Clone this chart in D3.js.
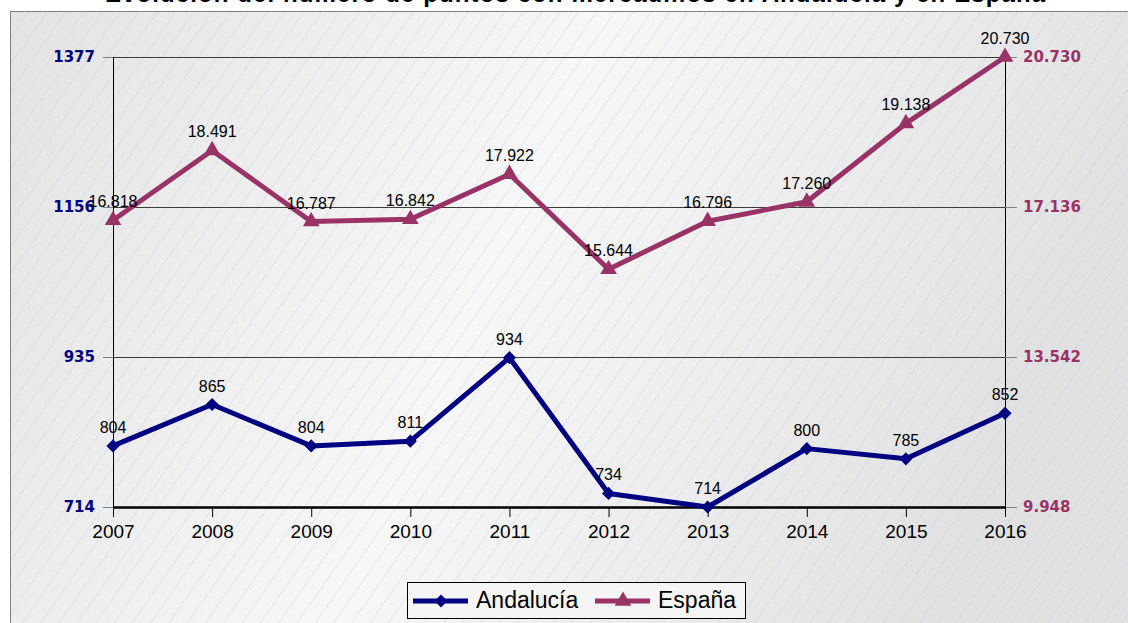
<!DOCTYPE html>
<meta charset="utf-8">
<script src="https://d3js.org/d3.v7.min.js"></script>
<style>
body { margin: 0; background: #fff; }
</style>
<body>
<div id="chart"></div>
<script>

// data
var years = [2007, 2008, 2009, 2010, 2011, 2012, 2013, 2014, 2015, 2016];
var andalucia = [804, 865, 804, 811, 934, 734, 714, 800, 785, 852];
var espana = [16818, 18491, 16787, 16842, 17922, 15644, 16796, 17260, 19138, 20730];
var leftTicks = [714, 935, 1156, 1377];
var rightTicks = [9948, 13542, 17136, 20730];
var seriesNames = ["Andalucía", "España"];
var titleText = "Evolución del número de puntos con mercadillos en Andalucía y en España";

var W = 1128, H = 623;
var navy = "#000080", plum = "#993366";

var es = d3.formatLocale({decimal: ",", thousands: ".", grouping: [3], currency: ["", "€"]});
var fmt = es.format(",d");

var svg = d3.select("#chart").append("svg")
    .attr("width", W)
    .attr("height", H);

var defs = svg.append("defs");
var grad = defs.append("linearGradient").attr("id", "bg")
    .attr("x1", "0").attr("y1", "0").attr("x2", "1").attr("y2", "0.25");
grad.append("stop").attr("offset", "0").attr("stop-color", "#e3e3e3");
grad.append("stop").attr("offset", "0.5").attr("stop-color", "#f7f7f7");
grad.append("stop").attr("offset", "1").attr("stop-color", "#e1e1e1");

var hatch = defs.append("pattern").attr("id", "hatch")
    .attr("patternUnits", "userSpaceOnUse")
    .attr("width", 15).attr("height", 15)
    .attr("patternTransform", "rotate(35)");
hatch.append("line")
    .attr("x1", 0).attr("y1", 0).attr("x2", 0).attr("y2", 15)
    .attr("stroke", "#b4c6e6").attr("stroke-width", 0.8).attr("stroke-opacity", 0.8);

// outer chart area
svg.append("rect").attr("x", 10.5).attr("y", 11.5).attr("width", W).attr("height", H)
    .attr("fill", "url(#bg)");
svg.append("rect").attr("x", 10.5).attr("y", 11.5).attr("width", W).attr("height", H)
    .attr("fill", "url(#hatch)");
svg.append("rect").attr("x", 10.5).attr("y", 11.5).attr("width", W).attr("height", H)
    .attr("fill", "none").attr("stroke", "#7f7f7f").attr("stroke-width", 1);

// title (top of it is cut off in the original)
svg.append("text")
    .attr("x", 575).attr("y", 2)
    .attr("text-anchor", "middle")
    .style("font-family", "Liberation Sans, Arial, sans-serif")
    .style("font-weight", "bold")
    .style("font-size", "24px")
    .attr("textLength", 940)
    .text(titleText);

var pLeft = 113, pRight = 1005, pTop = 57, pBottom = 507;

var x = d3.scalePoint().domain(years).range([pLeft, pRight]);
var yL = d3.scaleLinear().domain([714, 1377]).range([pBottom, pTop]);
var yR = d3.scaleLinear().domain([9948, 20730]).range([pBottom, pTop]);

// horizontal gridlines
svg.append("g")
    .attr("transform", "translate(" + pRight + ",0)")
    .call(d3.axisLeft(yL).tickValues(leftTicks).tickSize(pRight - pLeft).tickFormat(""))
    .call(function(g) {
      g.select(".domain").remove();
      g.selectAll("line").attr("stroke", "#3c3c3c").attr("stroke-width", 1);
    });

// left axis
svg.append("g")
    .attr("transform", "translate(" + pLeft + ",0)")
    .call(d3.axisLeft(yL).tickValues(leftTicks).tickSize(10).tickPadding(8).tickFormat(d3.format("d")))
    .call(function(g) {
      g.select(".domain").attr("stroke", "#000").attr("d", "M0.5," + pTop + "V" + (pBottom + 10));
      g.selectAll("line").attr("stroke", "#808080");
      g.selectAll("text")
        .attr("fill", navy)
        .style("font-family", "DejaVu Sans, Verdana, sans-serif")
        .style("font-weight", "bold")
        .style("font-size", "15px");
    });

// right axis
svg.append("g")
    .attr("transform", "translate(" + pRight + ",0)")
    .call(d3.axisRight(yR).tickValues(rightTicks).tickSize(12).tickPadding(6).tickFormat(fmt))
    .call(function(g) {
      g.select(".domain").attr("stroke", "#000").attr("d", "M0.5," + pTop + "V" + (pBottom + 10));
      g.selectAll("line").attr("stroke", "#808080");
      g.selectAll("text")
        .attr("fill", plum)
        .style("font-family", "DejaVu Sans, Verdana, sans-serif")
        .style("font-weight", "bold")
        .style("font-size", "15px");
    });

// bottom axis
svg.append("g")
    .attr("transform", "translate(0," + pBottom + ")")
    .call(d3.axisBottom(x).tickSize(10).tickPadding(8))
    .call(function(g) {
      g.select(".domain").attr("stroke", "#000").attr("stroke-width", 2.5)
        .attr("d", "M" + pLeft + ",0.5H" + pRight);
      g.selectAll("line").attr("stroke", "#000");
      g.selectAll("text")
        .attr("fill", "#000")
        .style("font-family", "Liberation Sans, Arial, sans-serif")
        .style("font-size", "19px");
    });

var diamond = d3.symbol().type(d3.symbolDiamond2).size(110);
var triangle = d3.symbol().type(d3.symbolTriangle).size(120);

function drawSeries(vals, y, color, sym, cls) {
  var line = d3.line()
      .x(function(d, i) { return x(years[i]); })
      .y(function(d) { return y(d); });
  svg.append("path")
      .datum(vals)
      .attr("fill", "none")
      .attr("stroke", color)
      .attr("stroke-width", 5)
      .attr("stroke-linejoin", "round")
      .attr("d", line);
  svg.selectAll("path." + cls)
    .data(vals)
    .enter().append("path")
      .attr("class", cls)
      .attr("transform", function(d, i) { return "translate(" + x(years[i]) + "," + y(d) + ")"; })
      .attr("d", sym)
      .attr("fill", color);
  svg.selectAll("text." + cls)
    .data(vals)
    .enter().append("text")
      .attr("class", cls)
      .attr("x", function(d, i) { return x(years[i]); })
      .attr("y", function(d) { return y(d) - 13; })
      .attr("text-anchor", "middle")
      .style("font-family", "Liberation Sans, Arial, sans-serif")
      .style("font-size", "16px")
      .attr("fill", "#000")
      .text(function(d) { return fmt(d); });
}

drawSeries(andalucia, yL, navy, diamond, "and");
drawSeries(espana, yR, plum, triangle, "esp");

// legend
var lg = svg.append("g").attr("transform", "translate(407,582)");
lg.append("rect").attr("x", 0.5).attr("y", 0.5).attr("width", 338).attr("height", 36)
    .attr("fill", "#f5f5f5").attr("stroke", "#000");
var items = [
  {name: seriesNames[0], color: navy, sym: diamond, x: 6},
  {name: seriesNames[1], color: plum, sym: triangle, x: 188}
];
items.forEach(function(it) {
  lg.append("line").attr("x1", it.x).attr("x2", it.x + 55).attr("y1", 19).attr("y2", 19)
    .attr("stroke", it.color).attr("stroke-width", 5);
  lg.append("path").attr("transform", "translate(" + (it.x + 28) + ",19)")
    .attr("d", it.sym).attr("fill", it.color);
  lg.append("text").attr("x", it.x + 63).attr("y", 26)
    .style("font-family", "Liberation Sans, Arial, sans-serif")
    .style("font-size", "23px")
    .attr("fill", "#000")
    .text(it.name);
});

</script>
</body>
